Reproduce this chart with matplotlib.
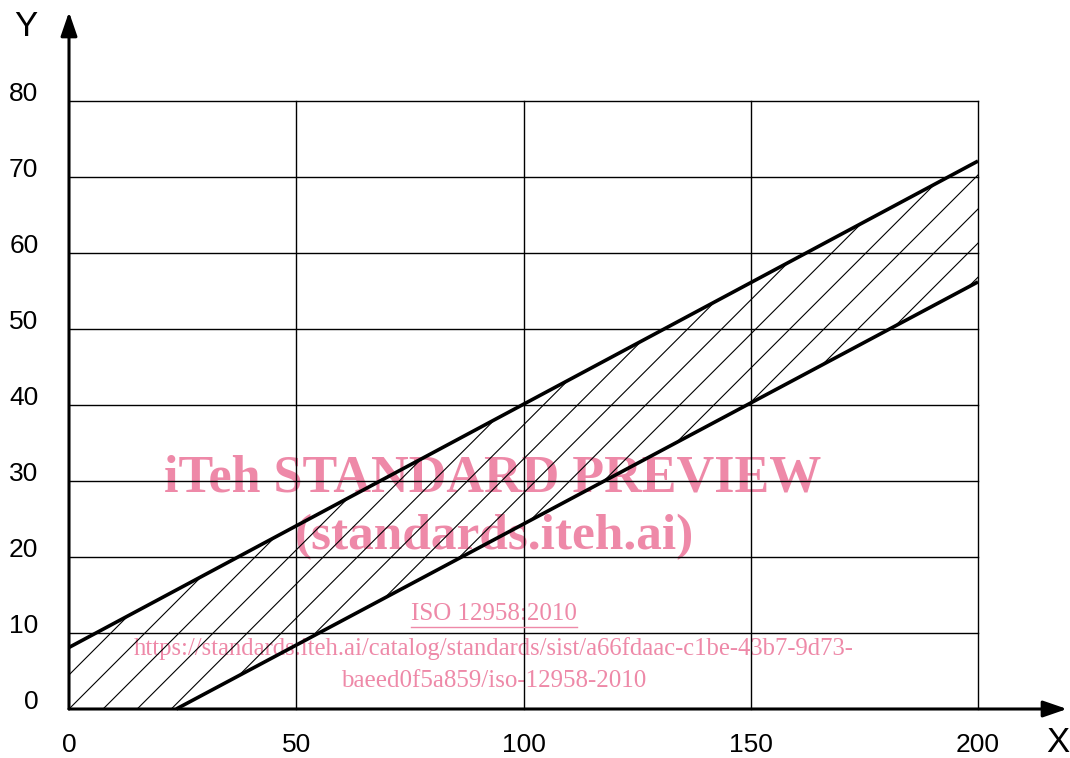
import matplotlib
matplotlib.use('Agg')
import matplotlib.pyplot as plt
from matplotlib.patches import Polygon
from matplotlib.lines import Line2D
from matplotlib.transforms import IdentityTransform
import numpy as np

# axis ticks
x_ticks = [0, 50, 100, 150, 200]
y_ticks = [0, 10, 20, 30, 40, 50, 60, 70, 80]

# the two limit lines
upper_x = [0, 200]
upper_y = [8.1, 72.1]
lower_x = [23.6, 200]
lower_y = [0, 56.2]

# spacing of the hatch lines along X
hatch_step = 7.5

W, H = 1070, 758
pink = '#ee89a8'
sans = ['Liberation Sans', 'DejaVu Sans']
serif = ['Liberation Serif', 'DejaVu Serif']

fig = plt.figure(figsize=(W / 100, H / 100), dpi=100)
ax = fig.add_axes([69 / W, 49 / H, 909 / W, 608 / H])
ax.set_xlim(0, 200)
ax.set_ylim(0, 80)
for s in ax.spines.values():
    s.set_visible(False)

ax.set_xticks(x_ticks)
ax.set_yticks(y_ticks)
ax.set_xticklabels([str(v) for v in x_ticks], family=sans, fontsize=19)
ax.set_yticklabels([str(v) for v in y_ticks], family=sans, fontsize=19)
ax.tick_params(axis='x', length=0, pad=17)
ax.tick_params(axis='y', length=0, pad=22)
for lab in ax.get_yticklabels():
    lab.set_va('baseline')

# grid
for v in x_ticks[1:]:
    ax.plot([v, v], [0, 80], color='k', lw=1.0, zorder=2, clip_on=False)
for v in y_ticks[1:]:
    ax.plot([0, 200], [v, v], color='k', lw=1.0, zorder=2, clip_on=False)

# hatched band between the lines
band = Polygon([(0, 0), (upper_x[0], upper_y[0]), (upper_x[1], upper_y[1]),
                (lower_x[1], lower_y[1]), (lower_x[0], lower_y[0])],
               closed=True, fill=False, edgecolor='none')
ax.add_patch(band)
p0 = ax.transData.transform((0, 0))
p1 = ax.transData.transform((1, 1))
slope = (p1[0] - p0[0]) / (p1[1] - p0[1])  # 45 degrees on screen
for k in range(-4, 40):
    x0 = hatch_step * k
    xs = np.array([x0 - 150, x0 + 300])
    ln, = ax.plot(xs, slope * (xs - x0), color='k', lw=0.8, zorder=3)
    ln.set_clip_path(band)

ax.plot(upper_x, upper_y, color='k', lw=2.6, zorder=4, solid_capstyle='butt', clip_on=False)
ax.plot(lower_x, lower_y, color='k', lw=2.6, zorder=4, solid_capstyle='butt', clip_on=False)

# axes with arrows
arrow = dict(arrowstyle='-|>,head_length=0.58,head_width=0.2', mutation_scale=25,
             lw=2.2, color='k', shrinkA=0, shrinkB=0)
ax.annotate('', xy=(0, (709 - 12) / 608), xytext=(0, 0), xycoords='axes fraction',
            arrowprops=arrow, annotation_clip=False, zorder=5)
ax.annotate('', xy=((1067 - 69) / 909, 0), xytext=(0, 0), xycoords='axes fraction',
            arrowprops=arrow, annotation_clip=False, zorder=5)

fig.text(26 / W, 1 - 26 / H, 'Y', family=sans, fontsize=25, ha='center', va='center')
fig.text(1058 / W, 1 - 742 / H, 'X', family=sans, fontsize=25, ha='center', va='center')

# watermark
def wm(x, y, s, size, weight='normal'):
    return ax.text(x / W, 1 - y / H, s, transform=fig.transFigure, family=serif,
                   fontsize=size, fontweight=weight, color=pink, ha='center',
                   va='center', zorder=1, clip_on=False)

wm(493, 478, 'iTeh STANDARD PREVIEW', 37.5, 'bold')
wm(494, 537, '(standards.iteh.ai)', 37, 'bold')
iso = wm(494, 614, 'ISO 12958:2010', 18)
wm(494, 649, 'https://standards.iteh.ai/catalog/standards/sist/a66fdaac-c1be-43b7-9d73-', 17.7)
wm(494, 681, 'baeed0f5a859/iso-12958-2010', 18)

fig.canvas.draw()
bb = iso.get_window_extent(fig.canvas.get_renderer())
fig.add_artist(Line2D([bb.x0, bb.x1], [H - 627, H - 627], color=pink, lw=1.0,
                      transform=IdentityTransform()))

fig.savefig('out.png', dpi=100)
